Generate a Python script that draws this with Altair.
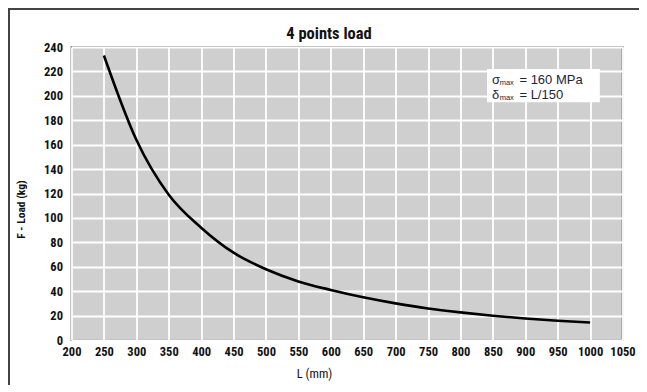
import altair as alt
import pandas as pd

# Data
L_mm = [250, 300, 350, 400, 450, 500, 550, 600, 650, 700, 750, 800, 850, 900, 950, 1000]
F_kg = [233, 164, 119, 92, 71.5, 58, 48, 41, 35, 30, 25.8, 22.6, 19.9, 17.6, 15.8, 14.3]

x_ticks = list(range(200, 1051, 50))
y_ticks = list(range(0, 241, 20))

# annotation box content (data coordinates)
box = pd.DataFrame({"x": [841], "x2": [1015], "y": [222], "y2": [194.7]})
sym = pd.DataFrame({"x": [848.5, 848.5], "y": [213, 201], "t": ["σ", "δ"]})
sub = pd.DataFrame({"x": [860.5, 860.5], "y": [210.5, 198.6], "t": ["max", "max"]})
val = pd.DataFrame({"x": [891, 891], "y": [213, 201], "t": ["= 160 MPa", "= L/150"]})
title_text = "4 points load"

FONT = "Liberation Sans Narrow, Arial Narrow, Roboto Condensed, Liberation Sans, sans-serif"
TXT = "#1c2540"

df = pd.DataFrame({"L": L_mm, "F": F_kg})

xs = alt.Scale(domain=[200, 1050], nice=False, zero=False)
ys = alt.Scale(domain=[0, 240], nice=False)

xaxis = alt.Axis(values=x_ticks, format="d", title="L (mm)", grid=True, ticks=False, domain=False,
                 labelOverlap=False, labelFlush=False,
                 labelFont=FONT, labelFontSize=12.5, labelFontWeight="bold", labelColor="#111",
                 labelPadding=5, titleFont=FONT, titleFontSize=12.5, titleFontWeight="normal",
                 titleColor="#111", titleX=242.5, titleY=33, titleBaseline="middle")
yaxis = alt.Axis(values=y_ticks, format="d", title="F - Load (kg)", grid=True, ticks=False, domain=False,
                 labelOverlap=False, labelFlush=False,
                 labelFont=FONT, labelFontSize=12.5, labelFontWeight="bold", labelColor="#111",
                 labelPadding=9, titleFont=FONT, titleFontSize=11.5, titleFontWeight="bold",
                 titleColor="#111", titleX=-50, titleY=162, titleBaseline="middle")

line = alt.Chart(df).mark_line(color="black", strokeWidth=2.6, interpolate="monotone").encode(
    x=alt.X("L:Q", scale=xs, axis=xaxis),
    y=alt.Y("F:Q", scale=ys, axis=yaxis),
)

rect = alt.Chart(box).mark_rect(color="white").encode(
    x=alt.X("x:Q", scale=xs, axis=xaxis), x2="x2:Q",
    y=alt.Y("y:Q", scale=ys, axis=yaxis), y2="y2:Q")

TFONT = "Liberation Sans, Arial, sans-serif"
def txt(d, size):
    return alt.Chart(d).mark_text(align="left", baseline="middle", fontSize=size, font=TFONT,
                                  color=TXT).encode(
        x=alt.X("x:Q", scale=xs, axis=xaxis), y=alt.Y("y:Q", scale=ys, axis=yaxis), text="t:N")

t1 = txt(sym, 13)
t2 = txt(sub, 7.5)
t3 = txt(val, 13)

title = alt.Chart(pd.DataFrame({"t": [title_text]})).mark_text(
    font=FONT, fontSize=16.5, fontWeight="bold", color="#111", align="center", baseline="alphabetic"
).encode(text="t:N", x=alt.value(257.5), y=alt.value(-8))

frame_top = alt.Chart(df).mark_rule(color="#444", strokeWidth=1.5).encode(
    x=alt.value(-64), x2=alt.value(567), y=alt.value(-38.3))
frame_left = alt.Chart(df).mark_rule(color="#444", strokeWidth=1.5).encode(
    x=alt.value(-62.8), y=alt.value(-39), y2=alt.value(340))

chart = alt.layer(line, rect, t1, t2, t3, title, frame_top, frame_left).properties(
    width=551, height=293,
    autosize=alt.AutoSizeParams(type="none"),
    padding={"left": 63.5, "top": 39, "right": 16, "bottom": 45},
    background="white",
).configure_view(
    fill="#d0cfcf", stroke="#8a8a8a", strokeWidth=2
).configure_axis(
    gridColor="white", gridWidth=1.8, gridOpacity=1
)

chart.save("out.html", embed_options={"renderer": "svg", "actions": False})
